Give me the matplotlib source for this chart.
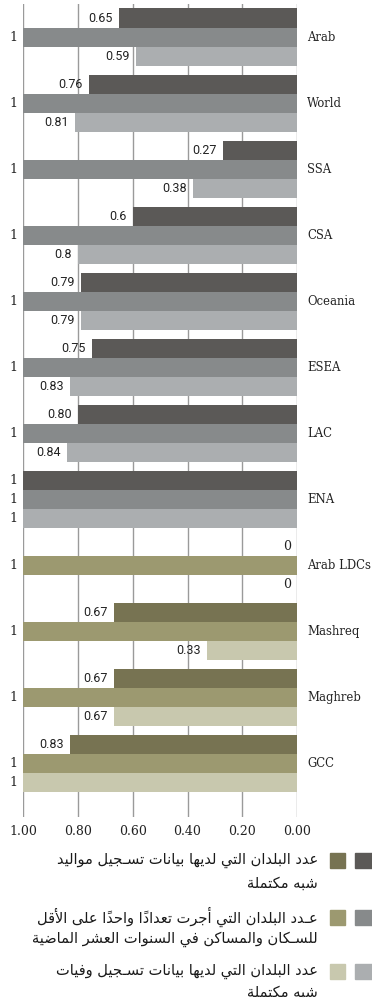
import matplotlib
matplotlib.use("Agg")
import matplotlib.pyplot as plt
from matplotlib.patches import Rectangle

categories = ["Arab", "World", "SSA", "CSA", "Oceania", "ESEA", "LAC", "ENA",
              "Arab LDCs", "Mashreq", "Maghreb", "GCC"]
births = [0.65, 0.76, 0.27, 0.6, 0.79, 0.75, 0.80, 1, 0, 0.67, 0.67, 0.83]
births_lbl = ["0.65", "0.76", "0.27", "0.6", "0.79", "0.75", "0.80", "1", "0", "0.67", "0.67", "0.83"]
census = [1, 1, 1, 1, 1, 1, 1, 1, 1, 1, 1, 1]
census_lbl = ["1"] * 12
deaths = [0.59, 0.81, 0.38, 0.8, 0.79, 0.83, 0.84, 1, 0, 0.33, 0.67, 1]
deaths_lbl = ["0.59", "0.81", "0.38", "0.8", "0.79", "0.83", "0.84", "1", "0", "0.33", "0.67", "1"]
xticks = [1.0, 0.8, 0.6, 0.4, 0.2, 0.0]

legend_lines = [
    ["عدد البلدان التي لديها بيانات تسـجيل مواليد", "شبه مكتملة"],
    ["عـدد البلدان التي أجرت تعداداً واحداً على الأقل", "للسـكان والمساكن في السنوات العشر الماضية"],
    ["عدد البلدان التي لديها بيانات تسـجيل وفيات", "شبه مكتملة"],
]

gray = ["#5b5957", "#878a8b", "#abaeb0"]
olive = ["#777352", "#9c9970", "#c8c8ae"]
n_gray = 8  # first 8 groups are gray, rest olive

# --- tiny arabic shaper (matplotlib has no shaping) ---
dual = {'ئ': 0xFE89, 'ب': 0xFE8F, 'ت': 0xFE95, 'ث': 0xFE99, 'ج': 0xFE9D, 'ح': 0xFEA1,
        'خ': 0xFEA5, 'س': 0xFEB1, 'ش': 0xFEB5, 'ص': 0xFEB9, 'ض': 0xFEBD, 'ط': 0xFEC1,
        'ظ': 0xFEC5, 'ع': 0xFEC9, 'غ': 0xFECD, 'ف': 0xFED1, 'ق': 0xFED5, 'ك': 0xFED9,
        'ل': 0xFEDD, 'م': 0xFEE1, 'ن': 0xFEE5, 'ه': 0xFEE9, 'ي': 0xFEF1}
right = {'آ': 0xFE81, 'أ': 0xFE83, 'ؤ': 0xFE85, 'إ': 0xFE87, 'ا': 0xFE8D, 'ة': 0xFE93,
         'د': 0xFEA9, 'ذ': 0xFEAB, 'ر': 0xFEAD, 'ز': 0xFEAF, 'و': 0xFEED, 'ى': 0xFEEF}
lamalef = {'آ': 0xFEF5, 'أ': 0xFEF7, 'إ': 0xFEF9, 'ا': 0xFEFB}


def jtype(t):
    if t[0] == 'LA':
        return 'R'
    if t[1] in dual or t[1] == 'ـ':
        return 'D'
    if t[1] in right:
        return 'R'
    return 'U'


def shape(s):
    toks = []
    i = 0
    while i < len(s):
        c = s[i]
        if '\u064b' <= c <= '\u0652' and toks:
            toks[-1][2] += c
        elif c == 'ل' and i + 1 < len(s) and s[i + 1] in lamalef:
            toks.append(['LA', s[i + 1], ''])
            i += 1
        else:
            toks.append(['C', c, ''])
        i += 1
    out = []
    for k, t in enumerate(toks):
        jt = jtype(t)
        prev = k > 0 and jtype(toks[k - 1]) == 'D' and jt != 'U'
        nxt = jt == 'D' and k + 1 < len(toks) and jtype(toks[k + 1]) in 'DR'
        if t[0] == 'LA':
            g = chr(lamalef[t[1]] + (1 if prev else 0))
        elif t[1] == 'ـ':
            g = 'ـ'
        elif t[1] in dual:
            g = chr(dual[t[1]] + (3 if prev and nxt else 1 if prev else 2 if nxt else 0))
        elif t[1] in right:
            g = chr(right[t[1]] + (1 if prev else 0))
        else:
            g = t[1]
        out.append(g + t[2])
    return ''.join(reversed(out))


W, H = 372, 998
fig = plt.figure(figsize=(W / 100, H / 100), dpi=100)
ax = fig.add_axes([23.3 / W, (H - 817) / H, (297 - 23.3) / W, (817 - 4) / H])

bh = 0.288
series = [(births, births_lbl), (census, census_lbl), (deaths, deaths_lbl)]
for s, (vals, lbls) in enumerate(series):
    off = (s - 1) * bh
    for i, (v, lb) in enumerate(zip(vals, lbls)):
        col = gray[s] if i < n_gray else olive[s]
        y = i + off
        ax.barh(y, v, height=bh, color=col, zorder=2)
        # whole numbers are set in the serif face, decimals in sans
        fam = "DejaVu Serif" if "." not in lb else "Roboto"
        ax.annotate(lb, xy=(v, y), xytext=(-4.5, 0), textcoords="offset points",
                    ha="right", va="center", fontsize=9, family=fam,
                    color="#222222", annotation_clip=False)

for i, c in enumerate(categories):
    ax.annotate(c, xy=(0, i), xytext=(7.2, 0), textcoords="offset points",
                ha="left", va="center", fontsize=8.4, family="DejaVu Serif",
                color="#222222", annotation_clip=False)

ax.set_xlim(1, 0)
ax.set_ylim(11.81, -0.5)
ax.set_xticks(xticks)
ax.set_xticklabels(["%.2f" % t for t in xticks], family="DejaVu Serif", fontsize=9)
ax.tick_params(axis="x", length=0, pad=6, colors="#222222")
ax.set_yticks([])
for sp in ax.spines.values():
    sp.set_visible(False)
ax.grid(axis="x", color="#9a9a9a", linewidth=1, zorder=0)
ax.set_axisbelow(True)

# legend drawn by hand, in pixel positions
rows = [(860, 883), (917, 939), (971, 992)]
for k, lines in enumerate(legend_lines):
    y0 = rows[k][0]
    fig.patches.append(Rectangle((355 / W, 1 - (y0 + 7.5) / H), 17 / W, 15 / H,
                                 transform=fig.transFigure, color=gray[k]))
    fig.patches.append(Rectangle((330 / W, 1 - (y0 + 7.5) / H), 15 / W, 15 / H,
                                 transform=fig.transFigure, color=olive[k]))
    for j, ln in enumerate(lines):
        fig.text(318 / W, 1 - rows[k][j] / H, shape(ln), ha="right", va="center",
                 fontsize=10.5, family="DejaVu Sans", color="#1a1a1a")

fig.savefig("out.png", dpi=100)
